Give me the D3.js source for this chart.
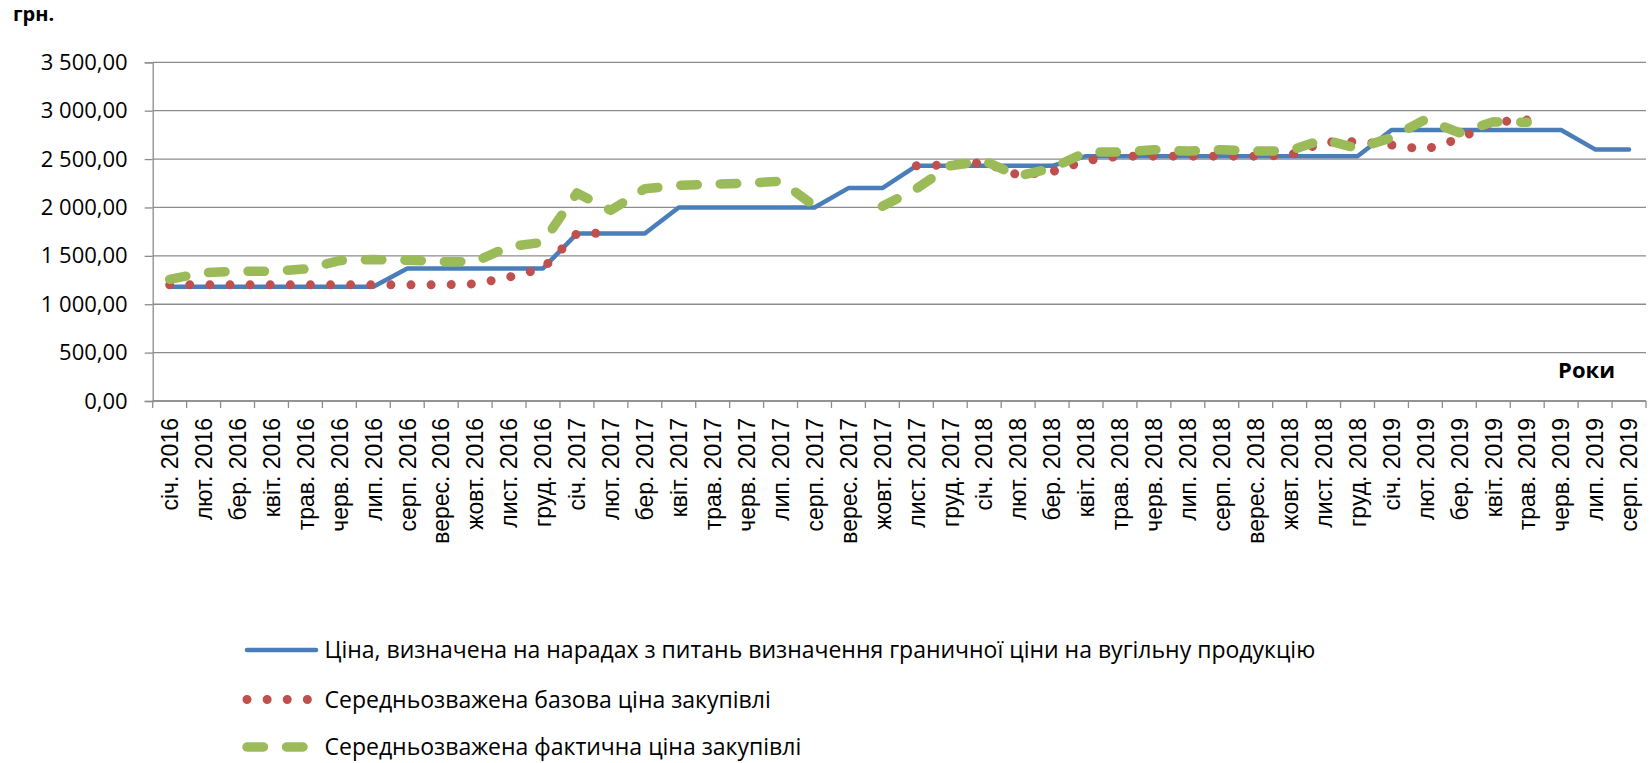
<!DOCTYPE html>
<html>
<head>
<meta charset="utf-8">
<script src="https://cdn.jsdelivr.net/npm/d3@7"></script>
<style>
	body { margin: 0; background: #fff; }
	svg { display: block; }
</style>
</head>
<body>
<svg id="chart"></svg>
<script>
var categories = [
	"січ. 2016", "лют. 2016", "бер. 2016", "квіт. 2016", "трав. 2016", "черв. 2016",
	"лип. 2016", "серп. 2016", "верес. 2016", "жовт. 2016", "лист. 2016", "груд. 2016",
	"січ. 2017", "лют. 2017", "бер. 2017", "квіт. 2017", "трав. 2017", "черв. 2017",
	"лип. 2017", "серп. 2017", "верес. 2017", "жовт. 2017", "лист. 2017", "груд. 2017",
	"січ. 2018", "лют. 2018", "бер. 2018", "квіт. 2018", "трав. 2018", "черв. 2018",
	"лип. 2018", "серп. 2018", "верес. 2018", "жовт. 2018", "лист. 2018", "груд. 2018",
	"січ. 2019", "лют. 2019", "бер. 2019", "квіт. 2019", "трав. 2019", "черв. 2019",
	"лип. 2019", "серп. 2019"
];

// ціна з нарад
var priceMeeting = [
	1180, 1180, 1180, 1180, 1180, 1180, 1180, 1370, 1370, 1370, 1370, 1370,
	1730, 1730, 1730, 2000, 2000, 2000, 2000, 2000, 2200, 2200, 2430, 2430,
	2430, 2430, 2430, 2530, 2530, 2530, 2530, 2530, 2530, 2530, 2530, 2530,
	2800, 2800, 2800, 2800, 2800, 2800, 2600, 2600
];

// базова ціна
var priceBase = [
	1200, 1200, 1200, 1200, 1200, 1200, 1200, 1200, 1200, 1210, 1280, 1370,
	1730, 1735, null, null, null, null, null, null, null, null, 2430, 2440,
	2464, 2335, 2370, 2484, 2530, 2530, 2530, 2530, 2530, 2540, 2675, 2680,
	2645, 2600, 2710, 2882, 2903, null, null, null
];

// фактична ціна
var priceActual = [
	1257, 1326, 1340, 1340, 1364, 1450, 1461, 1455, 1440, 1440, 1595, 1640,
	2150, 1970, 2193, 2228, 2242, 2249, 2272, 2015, null, 2012, 2193, 2431,
	2481, 2325, 2405, 2572, 2572, 2596, 2583, 2597, 2583, 2586, 2703, 2610,
	2722, 2910, 2772, 2885, 2880, null, null, null
];

var yTicks = [0, 500, 1000, 1500, 2000, 2500, 3000, 3500];

var seriesNames = [
	"Ціна, визначена на нарадах з питань визначення граничної ціни на вугільну продукцію",
	"Середньозважена базова ціна закупівлі",
	"Середньозважена фактична ціна закупівлі"
];

var width = 1652;
var height = 763;
var plot = { left: 152.7, right: 1646, top: 62.3, bottom: 401 };
var gridColor = "#8c8c8c";
var numFont = "'Open Sans', sans-serif";

var styles = [
	{ stroke: "#4a7ebb", width: 4.5, dash: null, cap: "round" },
	{ stroke: "#c0504d", width: 9, dash: "0.01,20.1", cap: "round" },
	{ stroke: "#9bbb59", width: 9.5, dash: "16.5,23", cap: "round" }
];

var svg = d3.select("#chart").attr("width", width).attr("height", height);

var xScale = d3.scaleBand().domain(categories).range([plot.left, plot.right]).padding(0);
var yScale = d3.scaleLinear().domain([0, 3500]).range([plot.bottom, plot.top]);

function cx(d, i) { return xScale(categories[i]) + xScale.bandwidth() / 2; }

// gridlines
svg.append("g")
	.selectAll("line")
	.data(yTicks)
	.join("line")
	.attr("x1", plot.left).attr("x2", plot.right)
	.attr("y1", function(d) { return yScale(d); })
	.attr("y2", function(d) { return yScale(d); })
	.style("stroke", gridColor)
	.style("stroke-width", "1.3px");

var yAxis = d3.axisLeft(yScale)
	.tickValues(yTicks)
	.tickSize(8)
	.tickPadding(17)
	.tickFormat(function(d) {
		return d3.format(",.2f")(d).replace(/,/g, " ").replace(".", ",");
	});

var gy = svg.append("g")
	.attr("transform", "translate(" + plot.left + ",0)")
	.call(yAxis);
gy.select(".domain").style("stroke", gridColor).style("stroke-width", "1.3px");
gy.selectAll(".tick line").style("stroke", gridColor).style("stroke-width", "1.3px");
gy.selectAll("text")
	.style("font-family", numFont)
	.style("font-size", "22px")
	.style("fill", "#000");

// x axis: ticks between categories
var xBounds = categories.map(function(c) { return xScale(c); }).concat([plot.right]);
var gx = svg.append("g");
gx.append("line")
	.attr("x1", plot.left).attr("x2", plot.right)
	.attr("y1", plot.bottom).attr("y2", plot.bottom)
	.style("stroke", gridColor).style("stroke-width", "1.3px");
gx.selectAll("line.tick")
	.data(xBounds)
	.join("line")
	.attr("class", "tick")
	.attr("x1", function(d) { return d; }).attr("x2", function(d) { return d; })
	.attr("y1", plot.bottom).attr("y2", plot.bottom + 7)
	.style("stroke", gridColor).style("stroke-width", "1.3px");
gx.selectAll("text")
	.data(categories)
	.join("text")
	.attr("transform", function(d) {
		return "translate(" + (xScale(d) + xScale.bandwidth() / 2) + "," + 418 + ") rotate(-90)";
	})
	.attr("dy", "0.36em")
	.attr("text-anchor", "end")
	.style("font-family", "'Liberation Sans', Arial, sans-serif")
	.style("font-size", "23px")
	.style("fill", "#000")
	.text(function(d) { return d; });

// lines
var series = [priceMeeting, priceBase, priceActual];
var line = d3.line()
	.defined(function(d) { return d != null; })
	.x(cx)
	.y(function(d) { return yScale(d); });

series.forEach(function(values, k) {
	var s = styles[k];
	svg.append("path")
		.datum(values)
		.attr("d", line)
		.style("fill", "none")
		.style("stroke", s.stroke)
		.style("stroke-width", s.width + "px")
		.style("stroke-linecap", s.cap)
		.style("stroke-linejoin", "round")
		.style("stroke-dasharray", s.dash);
});

// axis titles
svg.append("text")
	.attr("x", 13).attr("y", 21)
	.style("font-family", numFont)
	.style("font-weight", "bold")
	.style("font-size", "20px")
	.text("грн.");

svg.append("text")
	.attr("x", 1615).attr("y", 378)
	.attr("text-anchor", "end")
	.style("font-family", numFont)
	.style("font-weight", "bold")
	.style("font-size", "22px")
	.text("Роки");

// legend
var legendY = [650, 699.5, 747];
var legend = svg.append("g");
seriesNames.forEach(function(name, k) {
	var s = styles[k];
	legend.append("line")
		.attr("x1", 247).attr("x2", k == 1 ? 308 : 316)
		.attr("y1", legendY[k]).attr("y2", legendY[k])
		.style("stroke", s.stroke)
		.style("stroke-width", s.width + "px")
		.style("stroke-linecap", s.cap)
		.style("stroke-dasharray", s.dash);
	legend.append("text")
		.attr("x", 324.5).attr("y", legendY[k])
		.attr("dy", "0.36em")
		.style("font-family", numFont)
		.style("font-size", "23px")
		.style("fill", "#000")
		.text(name);
});
</script>
</body>
</html>
